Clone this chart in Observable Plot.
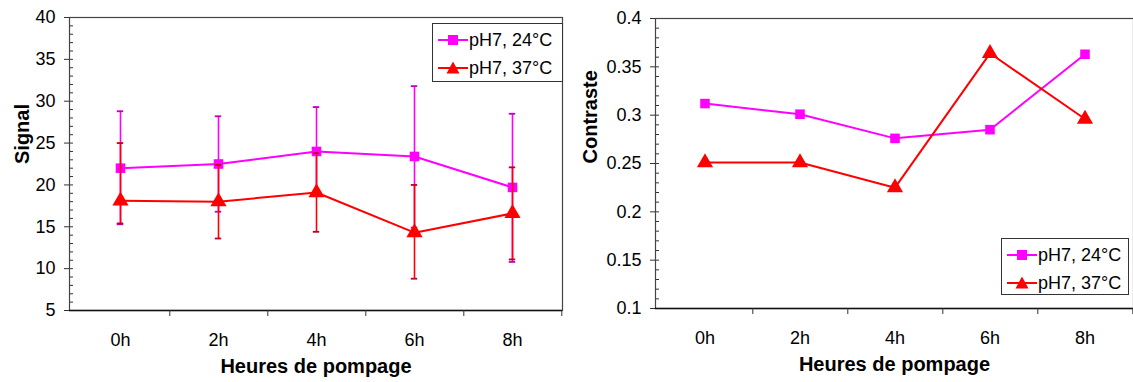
<!DOCTYPE html>
<html><head><meta charset="utf-8">
<script src="https://cdn.jsdelivr.net/npm/d3@7"></script>
<script src="https://cdn.jsdelivr.net/npm/@observablehq/plot@0.6"></script>
<style>
body{margin:0;background:#fff;font-family:"Liberation Sans",Arial,sans-serif;}
#wrap{position:relative;width:1133px;height:382px;overflow:hidden;background:#fff;}
.chart{position:absolute;top:0;}
.legend{position:absolute;box-sizing:border-box;border:1.5px solid #333;background:#fff;font-size:18px;color:#000;padding:2px 3px 0 5px;white-space:nowrap;}
.legend .row{display:flex;align-items:center;height:28px;}
.legend svg{margin-right:1px;}
</style></head><body><div id="wrap"></div>
<script>
// ---- data ----
const hours = ["0h", "2h", "4h", "6h", "8h"];
const series = ["pH7, 24°C", "pH7, 37°C"];
const seriesColors = ["#FF00FF", "#FF0000"];
const seriesSymbols = ["square", "triangle"];

const signal24 = [22.0, 22.5, 24.0, 23.4, 19.7];
const signal24Low = [15.3, 16.8, 18.7, 14.9, 10.8];
const signal24High = [28.8, 28.2, 29.3, 31.8, 28.5];
const signal37 = [18.1, 18.0, 19.1, 14.3, 16.6];
const signal37Low = [15.4, 13.6, 14.4, 8.8, 11.1];
const signal37High = [25.0, 22.4, 23.8, 20.0, 22.1];

const contrast24 = [0.312, 0.301, 0.276, 0.285, 0.363];
const contrast37 = [0.251, 0.251, 0.225, 0.364, 0.296];

const signalTicks = [5, 10, 15, 20, 25, 30, 35, 40];
const contrastTicks = [0.1, 0.15, 0.2, 0.25, 0.3, 0.35, 0.4];

const xTitle = "Heures de pompage";

// ---- helpers ----
function rowsFor(values, low, high, s) {
  return hours.map((h, i) => ({hour: h, series: s, value: values[i],
    low: low ? low[i] : null, high: high ? high[i] : null}));
}

function makeChart(cfg) {
  const {width, height, marginLeft, marginRight, marginTop, marginBottom,
         yDomain, yTicks, minorStep, yLabel, yLabelDx, tickFormat, data, withErr} = cfg;
  const plotW = width - marginLeft - marginRight;
  const bw = plotW / hours.length;
  const capInset = (bw - 7) / 2;
  const minor = d3.range(yDomain[0], yDomain[1] + minorStep / 2, minorStep);
  const marks = [
    Plot.tickY(minor, {y: d => d, insetRight: plotW - 4, stroke: "#333", strokeWidth: 1}),
    Plot.frame({stroke: "#444", strokeWidth: 1.2}),
    Plot.ruleY([yDomain[0]], {stroke: "#111", strokeWidth: 1.5}),
    Plot.axisY({ticks: yTicks, tickSize: 5, tickPadding: 9, tickFormat, label: null, stroke: "#333", fontSize: 18}),
    Plot.axisX({tickSize: 0, tickPadding: 23, label: null, fontSize: 18}),
    Plot.axisX({tickSize: 6, tickFormat: () => "", dx: bw / 2, label: null, stroke: "#333"}),
    Plot.text([yLabel], {frameAnchor: "left", rotate: -90, dx: yLabelDx, fontWeight: "bold", fontSize: 20}),
    Plot.text([xTitle], {frameAnchor: "bottom", dy: 62, fontWeight: "bold", fontSize: 20})
  ];
  series.forEach((s, k) => {
    const rows = data[k];
    if (withErr) {
      marks.push(
        Plot.ruleX(rows, {x: "hour", y1: "low", y2: "high", stroke: seriesColors[k], strokeWidth: 1.6}),
        Plot.tickY(rows, {x: "hour", y: "low", insetLeft: capInset, insetRight: capInset, stroke: k ? "#c00020" : "#c000c0", strokeWidth: 1.8}),
        Plot.tickY(rows, {x: "hour", y: "high", insetLeft: capInset, insetRight: capInset, stroke: k ? "#c00020" : "#c000c0", strokeWidth: 1.8})
      );
    }
    marks.push(
      Plot.line(rows, {x: "hour", y: "value", stroke: seriesColors[k], strokeWidth: 2}),
      Plot.dot(rows, {x: "hour", y: "value", symbol: () => seriesSymbols[k], fill: seriesColors[k], stroke: "none", r: k ? 6 : 5.4})
    );
  });
  return Plot.plot({
    width, height, marginLeft, marginRight, marginTop, marginBottom,
    style: {fontFamily: "'Liberation Sans', Arial, sans-serif", fontSize: "18px", color: "#000", background: "transparent", overflow: "visible"},
    x: {type: "band", domain: hours, padding: 0},
    y: {domain: yDomain},
    symbol: {type: "ordinal", domain: seriesSymbols, range: seriesSymbols},
    marks
  });
}

function makeLegend(left, top, w, h) {
  const div = document.createElement("div");
  div.className = "legend";
  Object.assign(div.style, {left: left + "px", top: top + "px", width: w + "px", height: h + "px"});
  series.forEach((s, k) => {
    const row = document.createElement("div");
    row.className = "row";
    const sym = k === 0
      ? `<rect x="10" y="3" width="10" height="10" fill="${seriesColors[k]}"/>`
      : `<path d="M15,1.5 L21.5,13.5 L8.5,13.5 Z" fill="${seriesColors[k]}"/>`;
    row.innerHTML = `<svg width="30" height="16"><line x1="0" y1="8" x2="30" y2="8" stroke="${seriesColors[k]}" stroke-width="2"/>${sym}</svg><span>${s}</span>`;
    div.appendChild(row);
  });
  return div;
}

const wrap = document.getElementById("wrap");

const left = makeChart({
  width: 570, height: 382, marginLeft: 69, marginRight: 8, marginTop: 17, marginBottom: 72,
  yDomain: [5, 40], yTicks: signalTicks, minorStep: 1, yLabel: "Signal", yLabelDx: -47,
  tickFormat: d => String(d),
  data: [rowsFor(signal24, signal24Low, signal24High, series[0]), rowsFor(signal37, signal37Low, signal37High, series[1])],
  withErr: true
});
left.classList.add("chart");
left.style.left = "0px";
wrap.appendChild(left);

const right = makeChart({
  width: 563, height: 382, marginLeft: 85, marginRight: 0, marginTop: 18, marginBottom: 74,
  yDomain: [0.1, 0.4], yTicks: contrastTicks, minorStep: 0.01, yLabel: "Contraste", yLabelDx: -65,
  tickFormat: d => String(+d.toFixed(2)),
  data: [rowsFor(contrast24, null, null, series[0]), rowsFor(contrast37, null, null, series[1])],
  withErr: false
});
right.classList.add("chart");
right.style.left = "570px";
wrap.appendChild(right);

wrap.appendChild(makeLegend(432, 23, 131, 59));
wrap.appendChild(makeLegend(1001, 238, 128, 57));
</script>
</body></html>
